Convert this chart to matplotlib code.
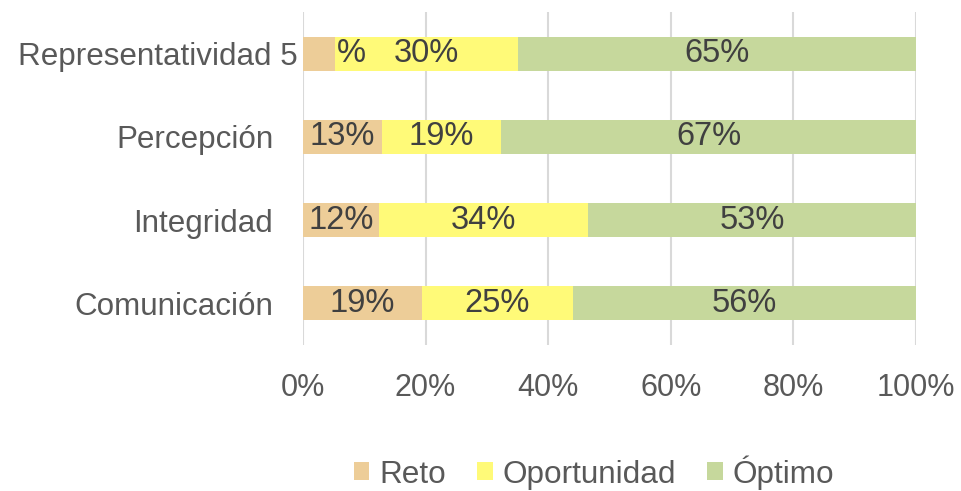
import numpy as np
import matplotlib.pyplot as plt
from matplotlib.transforms import ScaledTranslation

plt.rcParams['font.family'] = ['Liberation Sans', 'DejaVu Sans']

# bottom to top, as barh draws them
categories = ['Comunicación', 'Integridad', 'Percepción', 'Representatividad 5']
reto = [19.4, 12.4, 12.8, 5.2]
oportunidad = [24.6, 34.1, 19.4, 29.8]
optimo = [56.0, 53.4, 67.4, 65.0]
series_names = ['Reto', 'Oportunidad', 'Óptimo']
xticks = [0, 20, 40, 60, 80, 100]
xtick_labels = ['0%', '20%', '40%', '60%', '80%', '100%']

colors = ['#EDCD98', '#FFFA78', '#C6D89C']
grey = '#595959'
dark = '#404040'

data = np.array([reto, oportunidad, optimo])
share = data / data.sum(axis=0) * 100  # 100% stacked, like the spreadsheet does
labels = [[f'{v:.0f}%' for v in row] for row in data]
labels[0][3] = '%'  # the "5" got pushed into the category label in the original

fig = plt.figure(figsize=(9.61, 4.91), dpi=100)
ax = fig.add_axes([0.3153, 0.2974, 0.6379, 0.6782])

y = np.arange(len(categories))
left = np.zeros(len(categories))
for i, name in enumerate(series_names):
    ax.barh(y, share[i], left=left, height=0.41, color=colors[i], label=name, zorder=2)
    for j in range(len(categories)):
        if labels[i][j] == '%':
            ax.text(left[j] + share[i][j] + 0.3, y[j], labels[i][j], ha='left', va='center',
                    fontsize=23.5, color=dark, zorder=3)
        else:
            ax.text(left[j] + share[i][j] / 2, y[j], labels[i][j], ha='center', va='center',
                    fontsize=23.5, color=dark, zorder=3)
    left += share[i]

ax.set_xlim(0, 100)
ax.set_ylim(-0.5, len(categories) - 0.5)
ax.set_xticks(xticks)
ax.set_xticklabels(xtick_labels)
ax.set_yticks(y)
ax.set_yticklabels(categories)
ax.tick_params(axis='x', length=0, pad=20, labelsize=22, labelcolor=grey)
ax.tick_params(axis='y', length=0, pad=21.5, labelsize=22.6, labelcolor=grey)
ax.grid(axis='x', color='#D9D9D9', linewidth=1.5, zorder=0)
ax.set_axisbelow(True)
for s in ax.spines.values():
    s.set_visible(False)

# the long label sits further right in the original
lbl = ax.get_yticklabels()[3]
lbl.set_transform(lbl.get_transform() + ScaledTranslation(0.25, 0, fig.dpi_scale_trans))

fig.legend(loc='center', bbox_to_anchor=(594 / 961, 0.038), ncol=3, frameon=False,
           fontsize=22.7, labelcolor=grey, handlelength=0.5, handleheight=0.5,
           handletextpad=0.3, columnspacing=1.0)

fig.savefig('out.png', dpi=100)
